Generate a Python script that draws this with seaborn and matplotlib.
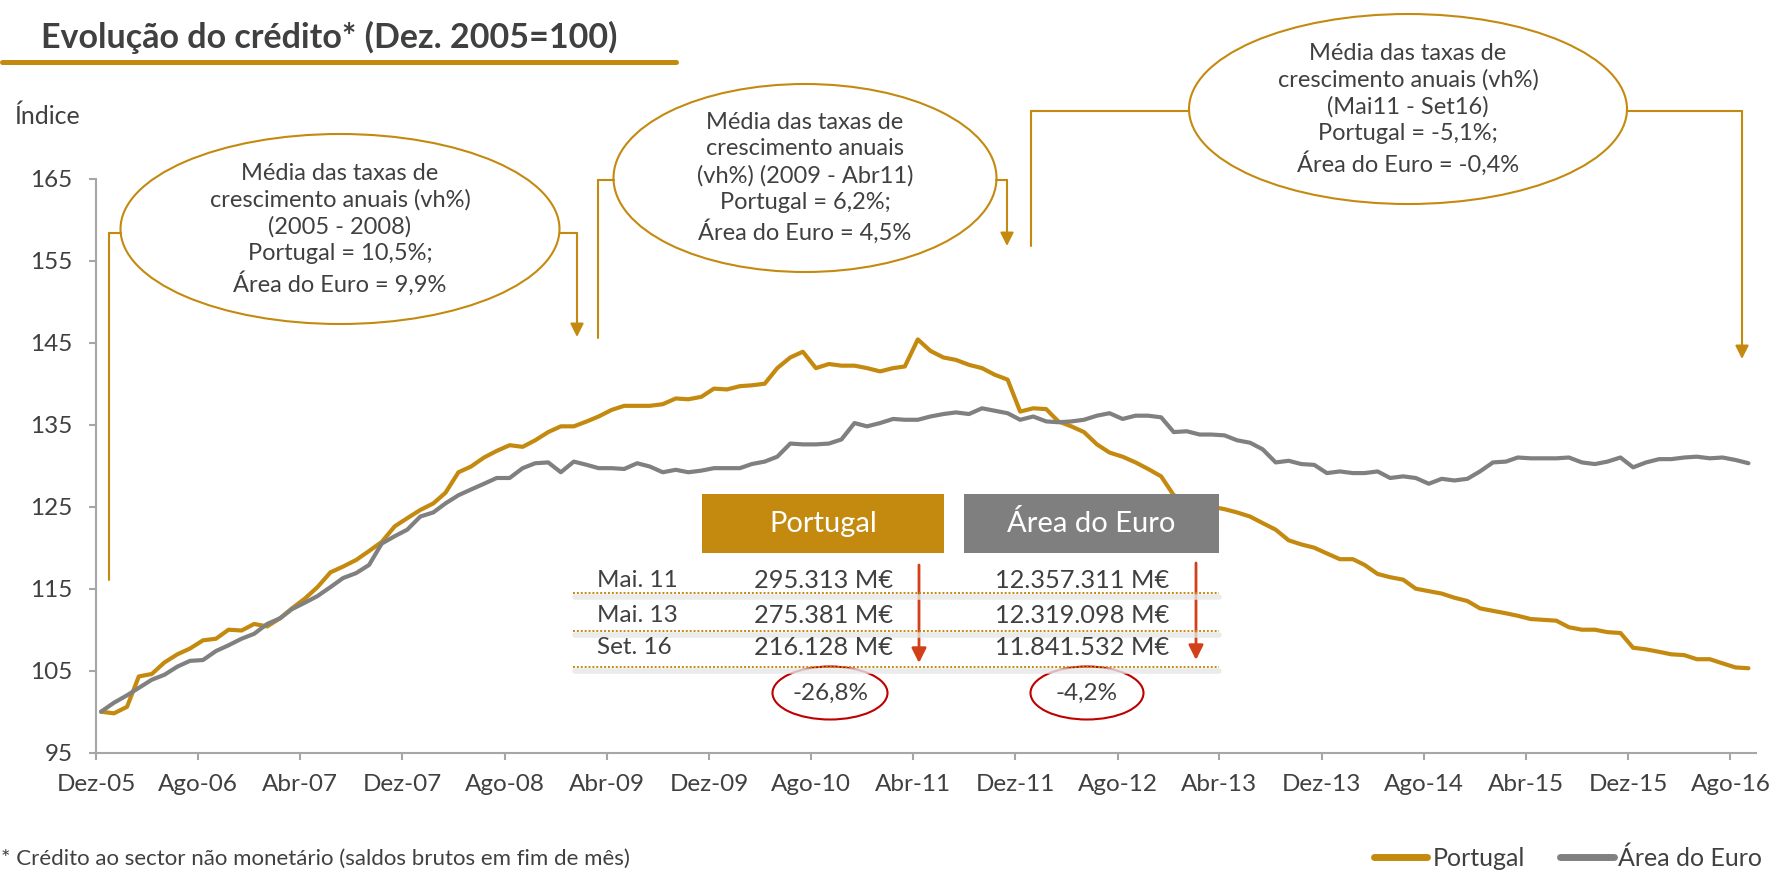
import pandas as pd
import matplotlib
matplotlib.use('Agg')
import matplotlib.pyplot as plt
import seaborn as sns
from matplotlib.patches import Ellipse, Rectangle, FancyArrowPatch
from matplotlib.lines import Line2D

# --- data (index, Dez. 2005 = 100), monthly Dez-05 .. Set-16 ---
start_month = '2005-12-01'
portugal = [100.0, 99.8, 100.6, 104.3, 104.6, 106.0, 107.0, 107.7, 108.7, 108.9,
            110.0, 109.9, 110.7, 110.4, 111.4, 112.6, 113.8, 115.2, 117.0, 117.7,
            118.5, 119.6, 120.7, 122.6, 123.6, 124.6, 125.4, 126.7, 129.2, 129.9,
            131.0, 131.8, 132.5, 132.3, 133.1, 134.1, 134.8, 134.8, 135.4, 136.0,
            136.8, 137.3, 137.3, 137.3, 137.5, 138.2, 138.1, 138.4, 139.4, 139.3,
            139.7, 139.8, 140.0, 141.9, 143.2, 143.9, 141.9, 142.4, 142.2, 142.2,
            141.9, 141.5, 141.9, 142.1, 145.4, 144.0, 143.2, 142.9, 142.3, 141.9,
            141.1, 140.5, 136.6, 137.0, 136.9, 135.4, 134.8, 134.1, 132.6, 131.6,
            131.1, 130.4, 129.6, 128.7, 126.4, 125.9, 125.4, 125.0, 124.7, 124.3,
            123.8, 123.0, 122.2, 120.9, 120.4, 120.0, 119.3, 118.6, 118.6, 117.9,
            116.8, 116.4, 116.1, 115.0, 114.7, 114.4, 113.9, 113.5, 112.6, 112.3,
            112.0, 111.7, 111.3, 111.2, 111.1, 110.3, 110.0, 110.0, 109.7, 109.6,
            107.8, 107.6, 107.3, 107.0, 106.9, 106.4, 106.4, 105.9, 105.4, 105.3]
area_euro = [100.0, 101.1, 102.0, 102.9, 103.9, 104.5, 105.5, 106.2, 106.3, 107.4,
             108.1, 108.9, 109.5, 110.7, 111.4, 112.5, 113.3, 114.1, 115.2, 116.3,
             116.9, 117.9, 120.5, 121.4, 122.2, 123.8, 124.3, 125.4, 126.4, 127.1,
             127.8, 128.5, 128.5, 129.7, 130.3, 130.4, 129.2, 130.5, 130.1, 129.7,
             129.7, 129.6, 130.3, 129.9, 129.2, 129.5, 129.2, 129.4, 129.7, 129.7,
             129.7, 130.2, 130.5, 131.1, 132.7, 132.6, 132.6, 132.7, 133.2, 135.2,
             134.8, 135.2, 135.7, 135.6, 135.6, 136.0, 136.3, 136.5, 136.3, 137.0,
             136.7, 136.4, 135.6, 136.0, 135.4, 135.3, 135.4, 135.6, 136.1, 136.4,
             135.7, 136.1, 136.1, 135.9, 134.1, 134.2, 133.8, 133.8, 133.7, 133.1,
             132.8, 132.0, 130.4, 130.6, 130.2, 130.1, 129.1, 129.3, 129.1, 129.1,
             129.3, 128.5, 128.7, 128.5, 127.8, 128.4, 128.2, 128.4, 129.3, 130.4,
             130.5, 131.0, 130.9, 130.9, 130.9, 131.0, 130.4, 130.2, 130.5, 131.0,
             129.8, 130.4, 130.8, 130.8, 131.0, 131.1, 130.9, 131.0, 130.7, 130.3]
series_names = ['Portugal', 'Área do Euro']
tick_labels = ['Dez-05', 'Ago-06', 'Abr-07', 'Dez-07', 'Ago-08', 'Abr-09', 'Dez-09',
               'Ago-10', 'Abr-11', 'Dez-11', 'Ago-12', 'Abr-13', 'Dez-13', 'Ago-14',
               'Abr-15', 'Dez-15', 'Ago-16']
y_ticks = [95, 105, 115, 125, 135, 145, 155, 165]

notes = ['Média das taxas de\ncrescimento anuais (vh%)\n(2005 - 2008)\nPortugal = 10,5%;\nÁrea do Euro = 9,9%',
         'Média das taxas de\ncrescimento anuais\n(vh%) (2009 - Abr11)\nPortugal = 6,2%;\nÁrea do Euro = 4,5%',
         'Média das taxas de\ncrescimento anuais (vh%)\n(Mai11 - Set16)\nPortugal = -5,1%;\nÁrea do Euro = -0,4%']
table_rows = ['Mai. 11', 'Mai. 13', 'Set. 16']
table_pt = ['295.313 M€', '275.381 M€', '216.128 M€']
table_ea = ['12.357.311 M€', '12.319.098 M€', '11.841.532 M€']
change_pt = '-26,8%'
change_ea = '-4,2%'

W, H = 1782, 871
GOLD = '#C48A10'
GREY = '#808080'
TXT = '#404040'
RED = '#D2401A'


def fx(x):
    return x / W


def fy(y):
    return 1 - y / H


dates = pd.date_range(start_month, periods=len(portugal), freq='MS') + pd.Timedelta(days=12)
df = pd.DataFrame({'Data': list(dates) * 2,
                   'Índice': portugal + area_euro,
                   'Série': [series_names[0]] * len(portugal) + [series_names[1]] * len(area_euro)})

sns.set_style('white')
plt.rcParams['font.family'] = ['Lato', 'DejaVu Sans']

fig = plt.figure(figsize=(W / 100, H / 100), dpi=100)
ax = fig.add_axes([fx(96), fy(752.7), (1756 - 96) / W, (752.7 - 178.7) / H])

sns.lineplot(data=df, x='Data', y='Índice', hue='Série', palette=[GOLD, GREY],
             linewidth=3.0, ax=ax, legend=False)

ax.set_ylim(95, 165)
ax.set_yticks(y_ticks)
ax.set_xlim(pd.Timestamp(start_month), pd.Timestamp('2016-10-01'))
ax.set_xticks(pd.date_range(start_month, periods=len(tick_labels), freq='8MS'))
ax.set_xticklabels(tick_labels)
ax.set_xlabel('')
ax.set_ylabel('')
for s in ['top', 'right']:
    ax.spines[s].set_visible(False)
for s in ['left', 'bottom']:
    ax.spines[s].set_color('#A6A6A6')
    ax.spines[s].set_linewidth(1.5)
ax.tick_params(axis='both', direction='out', length=5, width=1.5, color='#A6A6A6',
               labelsize=17.5, labelcolor=TXT)
ax.tick_params(axis='x', pad=10, bottom=True)
ax.tick_params(axis='y', pad=12, left=True)
ax.set_facecolor('white')

# title
fig.text(fx(41), fy(37), 'Evolução do crédito* (Dez. 2005=100)', fontsize=24.5,
         fontweight='bold', color=TXT, ha='left', va='center')
fig.add_artist(Line2D([fx(2), fx(676)], [fy(62), fy(62)], transform=fig.transFigure,
                      color=GOLD, lw=3.6))
fig.text(fx(14), fy(116), 'Índice', fontsize=18, color=TXT, ha='left', va='center')

# ellipse notes with brackets
ellipses = [((340, 229), 439, 190), ((805, 178), 383, 188), ((1408, 109), 438, 190)]
for (c, w, h), note in zip(ellipses, notes):
    fig.add_artist(Ellipse((fx(c[0]), fy(c[1])), w / W, h / H, transform=fig.transFigure,
                           facecolor='white', edgecolor=GOLD, lw=1.5))
    fig.text(fx(c[0]), fy(c[1]), note, fontsize=17, color=TXT, ha='center', va='center',
             linespacing=1.32)

brackets = [((121, 233), (109, 233), (109, 580), False),
            ((560, 233), (577, 233), (577, 337), True),
            ((614, 180), (598, 180), (598, 338), False),
            ((996, 180), (1007, 180), (1007, 246), True),
            ((1189, 111), (1031, 111), (1031, 246), False),
            ((1627, 111), (1742, 111), (1742, 359), True)]
for p0, p1, p2, head in brackets:
    fig.add_artist(Line2D([fx(p0[0]), fx(p1[0])], [fy(p0[1]), fy(p1[1])],
                          transform=fig.transFigure, color=GOLD, lw=1.5))
    fig.add_artist(FancyArrowPatch((fx(p1[0]), fy(p1[1])), (fx(p2[0]), fy(p2[1])),
                                   transform=fig.transFigure,
                                   arrowstyle='-|>' if head else '-',
                                   mutation_scale=20, color=GOLD, lw=1.5,
                                   shrinkA=0, shrinkB=0))

# table
fig.add_artist(Rectangle((fx(702), fy(553)), (944 - 702) / W, (553 - 494) / H,
                         transform=fig.transFigure, color=GOLD, lw=0))
fig.add_artist(Rectangle((fx(964), fy(553)), (1219 - 964) / W, (553 - 494) / H,
                         transform=fig.transFigure, color='#7F7F7F', lw=0))
fig.text(fx(823), fy(524), series_names[0], fontsize=21, color='white', ha='center', va='center')
fig.text(fx(1091), fy(524), series_names[1], fontsize=21, color='white', ha='center', va='center')

row_y = [580, 615, 647]
line_y = [593, 631, 667]
for yy, lab, vp, ve in zip(row_y, table_rows, table_pt, table_ea):
    fig.text(fx(597), fy(yy), lab, fontsize=17.5, color=TXT, ha='left', va='center')
    fig.text(fx(824), fy(yy), vp, fontsize=18.3, color=TXT, ha='center', va='center')
    fig.text(fx(1082), fy(yy), ve, fontsize=18.3, color=TXT, ha='center', va='center')
for yy in line_y:
    fig.add_artist(Line2D([fx(575), fx(1219)], [fy(yy + 4), fy(yy + 4)],
                          transform=fig.transFigure, color='#E6E6E6', lw=4, alpha=0.8))
    fig.add_artist(Line2D([fx(573), fx(1219)], [fy(yy), fy(yy)], transform=fig.transFigure,
                          color=GOLD, lw=1.4, linestyle=(0, (1, 1))))

for x0, y0, y1 in [(919, 565, 663), (1196, 563, 660)]:
    fig.add_artist(FancyArrowPatch((fx(x0), fy(y0)), (fx(x0), fy(y1)),
                                   transform=fig.transFigure, arrowstyle='-|>',
                                   mutation_scale=22, color=RED, lw=2,
                                   shrinkA=0, shrinkB=0))

for (cx, cy, w), txt in zip([(830, 693, 115), (1087, 693, 113)], [change_pt, change_ea]):
    fig.add_artist(Ellipse((fx(cx), fy(cy)), w / W, 53 / H, transform=fig.transFigure,
                           facecolor='none', edgecolor='#C00000', lw=1.5))
    fig.text(fx(cx), fy(cy), txt, fontsize=17.5, color=TXT, ha='center', va='center')

# footnote and legend
fig.text(fx(1), fy(869), '* Crédito ao sector não monetário (saldos brutos em fim de mês)',
         fontsize=16, color=TXT, ha='left', va='bottom')

handles = [Line2D([], [], color=GOLD, lw=5), Line2D([], [], color=GREY, lw=5)]
fig.legend(handles, series_names, loc='center right', bbox_to_anchor=(fx(1775), fy(858)),
           ncol=2, frameon=False, fontsize=18, handlelength=2.15, handletextpad=0.2,
           columnspacing=1.4, borderpad=0, labelcolor=TXT)

fig.savefig('out.png', dpi=100, facecolor='white')
plt.close(fig)
